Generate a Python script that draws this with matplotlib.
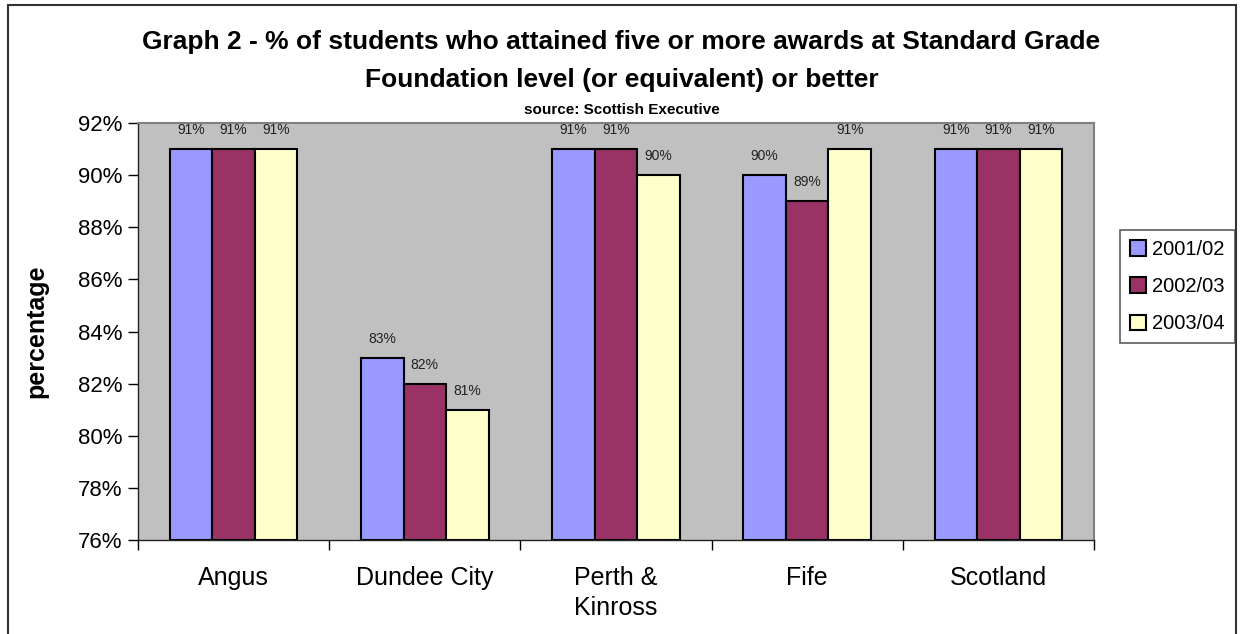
import matplotlib.pyplot as plt
import matplotlib.patches as mpatches
import numpy as np

plt.rcParams['font.family'] = ['Liberation Sans', 'DejaVu Sans']

#-------------------------------------------------------------------------------

categories = ["Angus", "Dundee City", "Perth &\nKinross", "Fife", "Scotland"]
years = ["2001/02", "2002/03", "2003/04"]
pct_2001 = [91, 83, 91, 90, 91]
pct_2002 = [91, 82, 91, 89, 91]
pct_2003 = [91, 81, 90, 91, 91]
y_ticks = [76, 78, 80, 82, 84, 86, 88, 90, 92]

colors = ["#9999FF", "#993366", "#FFFFCC"]

#-------------------------------------------------------------------------------

def main():
  fig = plt.figure(figsize=(12.43, 6.34), dpi=100)

  # Outer chart border (open at the bottom)
  fig.patches.append(mpatches.Rectangle((8/1243, -0.2), (1236-8)/1243, 1.2 - 5/634,
                                        transform=fig.transFigure, fill=False,
                                        edgecolor="#333333", lw=1.5))

  ax = fig.add_axes([138/1243, 1-540/634, (1094-138)/1243, (540-123)/634])
  ax.set_facecolor("#C0C0C0")

  x = np.arange(len(categories))
  w = 1/4.5
  series = [pct_2001, pct_2002, pct_2003]
  for i, (vals, col, lab) in enumerate(zip(series, colors, years)):
    xs = x + (i-1)*w
    ax.bar(xs, np.array(vals)-76, bottom=76, width=w, color=col,
           edgecolor="black", lw=1.5, label=lab, zorder=2)
    for xi, v in zip(xs, vals):
      ax.text(xi, v+0.45, "{}%".format(v), ha="center", va="bottom",
              fontsize=10, color="#222222")

  ax.set_xlim(-0.5, len(categories)-0.5)
  ax.set_ylim(76, 92)
  ax.set_yticks(y_ticks)
  ax.set_yticklabels(["{}%".format(t) for t in y_ticks], fontsize=16)
  ax.tick_params(axis="y", direction="out", length=7, width=1, pad=4)

  ax.set_xticks(x)
  ax.set_xticklabels(categories, fontsize=18, linespacing=1.3)
  ax.tick_params(axis="x", which="major", length=0, pad=19)
  ax.set_xticks(np.arange(len(categories)+1)-0.5, minor=True)
  ax.tick_params(axis="x", which="minor", direction="out", length=7, width=1)

  for side in ["top", "right"]:
    ax.spines[side].set_color("#808080")
    ax.spines[side].set_linewidth(1.5)
  for side in ["left", "bottom"]:
    ax.spines[side].set_color("#222222")
    ax.spines[side].set_linewidth(1)

  ax.set_ylabel("percentage", fontsize=18, fontweight="bold")
  ax.yaxis.set_label_coords(-0.094, 0.5)

  fig.text(0.5, 1-42/634, "Graph 2 - % of students who attained five or more awards at Standard Grade",
           ha="center", va="center", fontsize=19, fontweight="bold")
  fig.text(0.5, 1-80/634, "Foundation level (or equivalent) or better",
           ha="center", va="center", fontsize=19, fontweight="bold")
  fig.text(0.5, 1-110/634, "source: Scottish Executive",
           ha="center", va="center", fontsize=11, fontweight="bold")

  leg = fig.legend(loc="upper left", bbox_to_anchor=(1120/1243, 1-230/634),
                   fontsize=14.5, frameon=True, fancybox=False, handlelength=0.8,
                   handleheight=0.8, handletextpad=0.3, borderpad=0.5,
                   borderaxespad=0, labelspacing=0.9)
  leg.get_frame().set_edgecolor("#333333")
  leg.get_frame().set_linewidth(1.2)

  fig.savefig("out.png", dpi=100)
  plt.close(fig)

if __name__ == "__main__":
  main()
